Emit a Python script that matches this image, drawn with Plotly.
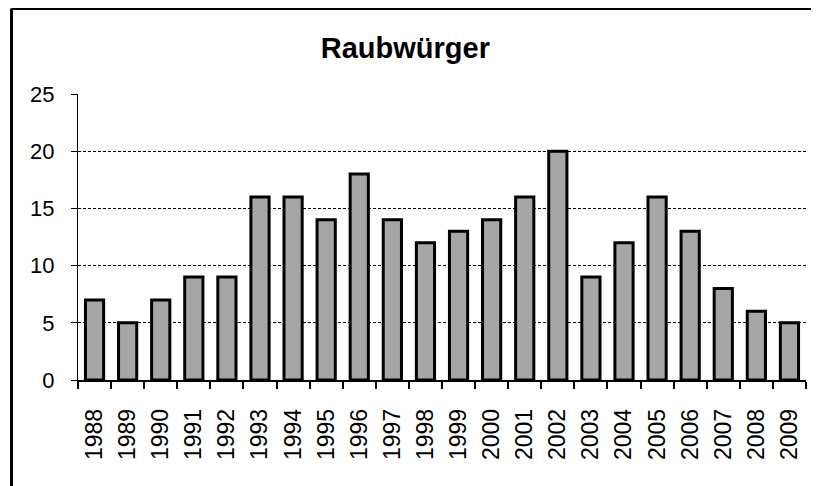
import plotly.graph_objects as go

years = [str(y) for y in range(1988, 2010)]
counts = [7, 5, 7, 9, 9, 16, 16, 14, 18, 14, 12, 13, 14, 16, 20, 9, 12, 16, 13, 8, 6, 5]
y_ticks = [0, 5, 10, 15, 20, 25]
title_text = 'Raubwürger'

# the page puts the figure 8px in from the top-left corner, so size it to fit the window
fig = go.Figure()

fig.add_trace(go.Bar(
    x=years,
    y=counts,
    marker=dict(color='#a6a6a6', line=dict(color='black', width=3)),
    width=0.55,
))

fig.update_layout(
    width=811,
    height=478,
    margin=dict(l=70, r=13, t=86, b=106, autoexpand=False),
    paper_bgcolor='white',
    plot_bgcolor='white',
    showlegend=False,
    font=dict(family='Liberation Sans, Arial, sans-serif', color='black', size=22),
    title=dict(text='<b>' + title_text + '</b>', x=0.49, xref='container', xanchor='center',
               y=0.917, yref='container', yanchor='middle',
               font=dict(size=29, color='black')),
)

fig.update_yaxes(
    range=[0, 25],
    tickvals=y_ticks,
    showgrid=True,
    gridcolor='black',
    gridwidth=1,
    griddash='3px,2px',
    showline=True,
    linecolor='black',
    linewidth=1,
    ticks='outside',
    ticklen=6,
    tickcolor='black',
    ticklabelstandoff=12,
    zeroline=False,
    automargin=False,
    fixedrange=True,
)

fig.update_xaxes(
    type='category',
    tickangle=-90,
    tickfont=dict(size=23),
    showline=True,
    linecolor='black',
    linewidth=1.5,
    ticks='outside',
    tickson='boundaries',
    ticklen=7,
    tickwidth=2,
    tickcolor='black',
    ticklabelstandoff=18,
    showgrid=False,
    automargin=False,
    fixedrange=True,
)

# outer chart frame: only its top and left edges are inside the window
frame_top = 1 + 85.5 / 286
frame_left = -0.0913
fig.add_shape(type='line', xref='paper', yref='paper',
              x0=frame_left, y0=frame_top, x1=1.2, y1=frame_top,
              line=dict(color='black', width=3), layer='above')
fig.add_shape(type='line', xref='paper', yref='paper',
              x0=frame_left, y0=frame_top, x1=frame_left, y1=-0.6,
              line=dict(color='black', width=3), layer='above')

fig.write_html('out.html')
